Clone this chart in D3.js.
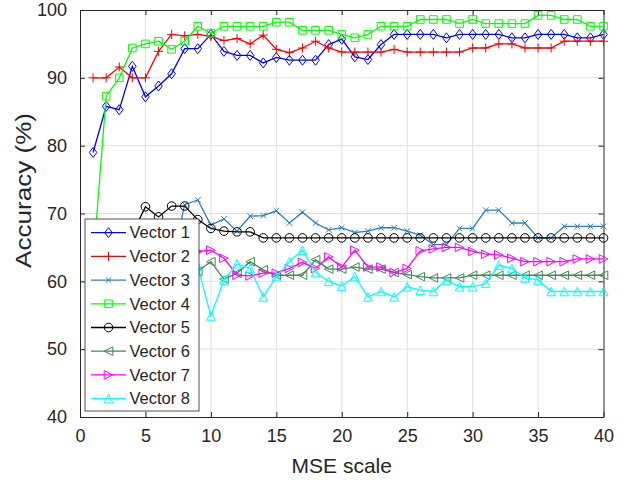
<!DOCTYPE html>
<html>
<head>
<meta charset="utf-8">
<script src="https://cdn.jsdelivr.net/npm/d3@7"></script>
<style>
  body { margin: 0; background: #fff; }
  text { font-family: "Liberation Sans", Arial, sans-serif; fill: #262626; }
</style>
</head>
<body>
<svg width="629" height="485"></svg>
<script>
// data (x = 1..40, points under the legend are guesses)
const mseScale = d3.range(1, 41);
const vector1 = [79, 85.8, 85.3, 91.7, 87.2, 88.8, 90.6, 94.3, 94.3, 96.4, 93.9, 93.3, 93.3, 92.2, 93.0, 92.6, 92.6, 92.6, 94.9, 95.7,
                 93.1, 92.7, 94.9, 96.4, 96.4, 96.4, 96.4, 95.9, 96.4, 96.4, 96.4, 96.4, 95.9, 95.9, 96.4, 96.4, 96.4, 95.9, 95.9, 96.4];
const vector2 = [90, 90, 91.6, 90, 90, 93.9, 96.4, 96.2, 96.4, 96.1, 95.5, 95.8, 95.0, 96.3, 94.2, 93.7, 94.4, 95.4, 94.4, 93.8,
                 93.8, 93.8, 93.8, 94.2, 93.8, 93.8, 93.8, 93.8, 93.8, 94.4, 94.4, 95.0, 95.0, 94.4, 94.4, 94.4, 95.4, 95.4, 95.4, 95.4];
const vector3 = [62, 62.5, 63, 63, 62.5, 63, 62.6, 71.3, 72.0, 68.3, 69.2, 67.4, 69.6, 69.7, 70.4, 68.6, 70.2, 68.6, 67.6, 67.9,
                 67.2, 67.4, 67.9, 67.9, 67.4, 66.8, 65.4, 65.4, 67.8, 67.8, 70.5, 70.5, 68.6, 68.6, 66.4, 66.4, 68.1, 68.1, 68.1, 68.1];
const vector4 = [62.7, 87.3, 90, 94.4, 95.0, 95.4, 94.2, 95.4, 97.6, 96.6, 97.6, 97.6, 97.6, 97.6, 98.2, 98.2, 97.0, 97.0, 97.0, 96.4,
                 95.9, 96.4, 97.6, 97.6, 97.6, 98.6, 98.6, 98.6, 98.0, 98.6, 98.0, 98.0, 98.0, 98.0, 99.2, 99.2, 98.6, 98.6, 97.6, 97.6];
const vector5 = [66, 66, 66.5, 67, 71.0, 69.5, 71.1, 71.1, 69.1, 67.8, 67.4, 67.3, 67.3, 66.4, 66.4, 66.4, 66.4, 66.4, 66.4, 66.4,
                 66.4, 66.4, 66.4, 66.4, 66.4, 66.4, 66.4, 66.4, 66.4, 66.4, 66.4, 66.4, 66.4, 66.4, 66.4, 66.4, 66.4, 66.4, 66.4, 66.4];
const vector6 = [60, 60.5, 61, 61, 61.5, 61.5, 62, 62, 61.5, 62.9, 60.3, 61.2, 62.9, 61.7, 60.9, 60.9, 60.9, 63.2, 61.8, 61.8,
                 62.1, 61.8, 61.8, 61.3, 61.0, 60.7, 60.5, 60.5, 60.5, 60.9, 60.9, 60.9, 60.9, 60.9, 60.9, 60.9, 60.9, 60.9, 60.9, 60.9];
const vector7 = [62, 62.5, 63, 63, 63.5, 64, 64, 64.5, 64.4, 64.6, 63.4, 60.9, 60.8, 61.2, 61.2, 61.9, 62.8, 61.9, 63.6, 62.1,
                 64.6, 62.1, 62.1, 61.3, 61.9, 64.5, 64.8, 65.0, 65.0, 64.4, 64.0, 63.9, 63.4, 62.9, 62.9, 62.9, 62.9, 63.3, 63.3, 63.3];
const vector8 = [58, 59, 59, 60, 60, 61, 61, 62, 62.2, 54.9, 60.2, 62.6, 61.9, 57.7, 60.7, 62.9, 64.6, 61.3, 60.0, 59.3,
                 60.7, 57.7, 58.5, 57.7, 59.2, 58.7, 58.5, 60.2, 59.2, 59.2, 59.7, 62.4, 61.9, 60.5, 60.2, 58.5, 58.5, 58.5, 58.5, 58.5];

const seriesNames = ["Vector 1", "Vector 2", "Vector 3", "Vector 4", "Vector 5", "Vector 6", "Vector 7", "Vector 8"];
const seriesValues = [vector1, vector2, vector3, vector4, vector5, vector6, vector7, vector8];
const xTicks = [0, 5, 10, 15, 20, 25, 30, 35, 40];
const yTicks = [40, 50, 60, 70, 80, 90, 100];

// styles
const seriesColors = ["#0000ff", "#ff0000", "#2a80bd", "#00ff00", "#000000", "#3f8a55", "#ff00ff", "#00ffff"];
const markerPaths = [
  "M0,-5L3.8,0L0,5L-3.8,0Z",                         // diamond
  "M-4.5,0H4.5M0,-4.5V4.5",                          // plus
  "M-2.8,-2.8L2.8,2.8M-2.8,2.8L2.8,-2.8",            // x
  "M-3.8,-3.8H3.8V3.8H-3.8Z",                        // square
  "M-4.3,0A4.3,4.3 0 1,0 4.3,0A4.3,4.3 0 1,0 -4.3,0", // circle
  "M-4.3,0L4.3,-4.3L4.3,4.3Z",                       // triangle left
  "M4.3,0L-4.3,-4.3L-4.3,4.3Z",                      // triangle right
  "M0,-4.3L4.3,4.3L-4.3,4.3Z"                        // triangle up
];

const width = 629, height = 485;
const margin = {top: 10, right: 25.5, bottom: 68, left: 80},
    plotWidth = width - margin.left - margin.right,
    plotHeight = height - margin.top - margin.bottom;

const svg = d3.select('svg')

const x = d3.scaleLinear().domain([0, 40]).range([0, plotWidth]);
const y = d3.scaleLinear().domain([40, 100]).range([plotHeight, 0]);

const plot = svg.append("g")
    .attr("transform", `translate(${margin.left}, ${margin.top})`)

// grid
plot.append("g")
  .selectAll("line")
  .data(xTicks.slice(1, -1))
  .join("line")
    .attr("x1", d => x(d)).attr("x2", d => x(d))
    .attr("y1", 0).attr("y2", plotHeight)
    .attr("stroke", "#dfdfdf")

plot.append("g")
  .selectAll("line")
  .data(yTicks.slice(1, -1))
  .join("line")
    .attr("x1", 0).attr("x2", plotWidth)
    .attr("y1", d => y(d)).attr("y2", d => y(d))
    .attr("stroke", "#dfdfdf")

// axes (inward ticks on all four sides)
const axisColor = "#262626";
const xAxis = plot.append("g")
    .attr("transform", `translate(0, ${plotHeight})`)
    .call(d3.axisBottom(x).tickValues(xTicks).tickSizeInner(-5).tickSizeOuter(0).tickPadding(12))
xAxis.select(".domain").attr("stroke", axisColor)
xAxis.selectAll("line").attr("stroke", axisColor)
xAxis.selectAll("text").attr("font-size", "18px").attr("fill", axisColor)
    .attr("font-family", "Liberation Sans, Arial, sans-serif")

const yAxis = plot.append("g")
    .call(d3.axisLeft(y).tickValues(yTicks).tickSizeInner(-5).tickSizeOuter(0).tickPadding(13))
yAxis.select(".domain").attr("stroke", axisColor)
yAxis.selectAll("line").attr("stroke", axisColor)
yAxis.selectAll("text").attr("font-size", "18px").attr("fill", axisColor)
    .attr("font-family", "Liberation Sans, Arial, sans-serif")

const topAxis = plot.append("g")
    .call(d3.axisTop(x).tickValues(xTicks).tickSizeInner(-5).tickSizeOuter(0).tickFormat(""))
topAxis.selectAll("path, line").attr("stroke", axisColor)

const rightAxis = plot.append("g")
    .attr("transform", `translate(${plotWidth}, 0)`)
    .call(d3.axisRight(y).tickValues(yTicks).tickSizeInner(-5).tickSizeOuter(0).tickFormat(""))
rightAxis.selectAll("path, line").attr("stroke", axisColor)

// series
const line = d3.line()
    .x((d, i) => x(mseScale[i]))
    .y(d => y(d))

seriesValues.forEach((values, s) => {
  const g = plot.append("g")
  g.append("path")
      .datum(values)
      .attr("d", line)
      .attr("fill", "none")
      .attr("stroke", seriesColors[s])
      .attr("stroke-width", 1.3)
  g.selectAll("path.marker")
    .data(values)
    .join("path")
      .attr("class", "marker")
      .attr("transform", (d, i) => `translate(${x(mseScale[i])}, ${y(d)})`)
      .attr("d", markerPaths[s])
      .attr("fill", "none")
      .attr("stroke", seriesColors[s])
      .attr("stroke-width", 1)
})

// legend
const legend = svg.append("g")
    .attr("transform", "translate(85, 219)")

legend.append("rect")
    .attr("width", 114)
    .attr("height", 192)
    .attr("fill", "#fff")
    .attr("stroke", axisColor)
    .attr("stroke-width", 0.8)

seriesNames.forEach((name, s) => {
  const row = legend.append("g")
      .attr("transform", `translate(0, ${13.7 + s * 23.7})`)
  row.append("line")
      .attr("x1", 6).attr("x2", 41)
      .attr("stroke", seriesColors[s])
      .attr("stroke-width", 1.3)
  row.append("path")
      .attr("transform", "translate(23.5, 0)")
      .attr("d", markerPaths[s])
      .attr("fill", "none")
      .attr("stroke", seriesColors[s])
  row.append("text")
      .attr("x", 44.5)
      .attr("dy", "0.35em")
      .attr("font-size", "16.5px")
      .text(name)
})

// axis titles
svg.append("text")
    .attr("x", margin.left + plotWidth / 2)
    .attr("y", 473)
    .attr("text-anchor", "middle")
    .attr("font-size", "21px")
    .text("MSE scale")

svg.append("text")
    .attr("transform", "translate(31, 190.5) rotate(-90)")
    .attr("text-anchor", "middle")
    .attr("font-size", "22px")
    .attr("textLength", 155)
    .attr("lengthAdjust", "spacingAndGlyphs")
    .text("Accuracy (%)")
</script>
</body>
</html>
